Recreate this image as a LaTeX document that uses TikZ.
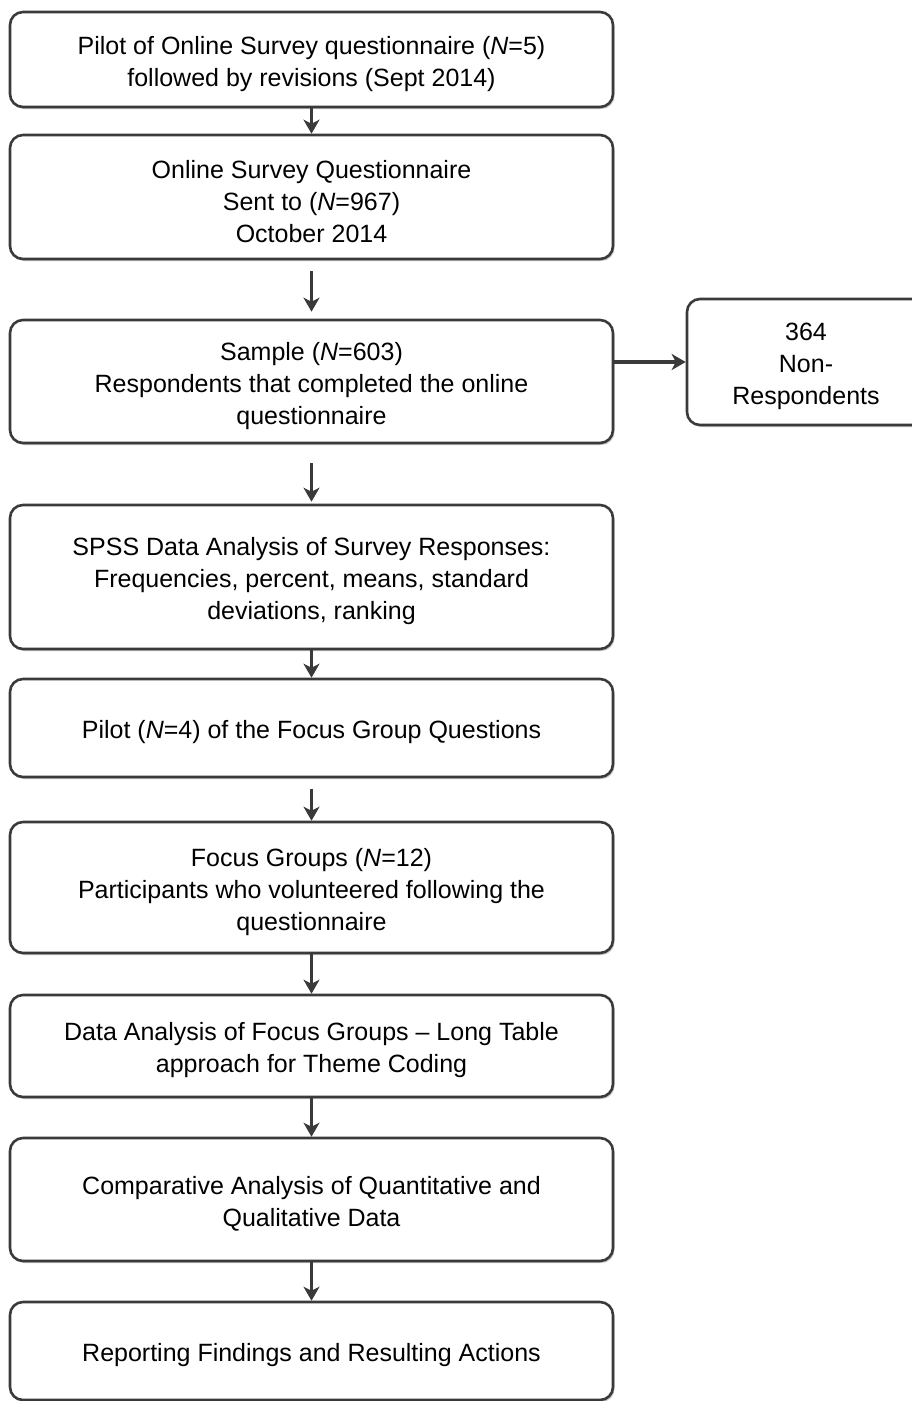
\documentclass[tikz,border=0pt]{standalone}
\usepackage{fontspec}
\setmainfont{Liberation Sans}
\usetikzlibrary{arrows.meta,shadows}
\definecolor{edge}{HTML}{3A3A3A}
\newcommand{\toppad}{\rule{0pt}{27pt}}
\begin{document}
\begin{tikzpicture}[x=1pt,y=-1pt,
  box/.style={draw=edge, line width=2.6pt, rounded corners=13pt, fill=white,
    minimum width=603pt, inner sep=0pt, align=center,
    font=\fontsize{25}{32}\selectfont,
    drop shadow={shadow xshift=1.5pt, shadow yshift=-2pt, opacity=0.35, fill=black!60}},
  flow/.style={draw=edge, line width=3.5pt, -{Stealth[length=14pt,width=16pt,inset=4pt]}}
]
\useasboundingbox (0,0) rectangle (912,1401);
\node[box, minimum height=95pt] (b1) at (311.5,59.5)
  {\toppad Pilot of Online Survey questionnaire ({\itshape N}=5)\\followed by revisions (Sept 2014)};
\node[box, minimum height=124pt] (b2) at (311.5,197)
  {\toppad Online Survey Questionnaire\\Sent to ({\itshape N}=967)\\October 2014};
\node[box, minimum height=123pt] (b3) at (311.5,381.5)
  {\toppad Sample ({\itshape N}=603)\\Respondents that completed the online\\questionnaire};
\node[box, minimum width=238pt, minimum height=126pt] (br) at (806,362)
  {\toppad 364\\Non-\\Respondents};
\node[box, minimum height=144pt] (b4) at (311.5,577)
  {\toppad SPSS Data Analysis of Survey Responses:\\Frequencies, percent, means, standard\\deviations, ranking};
\node[box, minimum height=98pt] (b5) at (311.5,728)
  {\toppad Pilot ({\itshape N}=4) of the Focus Group Questions};
\node[box, minimum height=131pt] (b6) at (311.5,887.5)
  {\toppad Focus Groups ({\itshape N}=12)\\Participants who volunteered following the\\questionnaire};
\node[box, minimum height=102pt] (b7) at (311.5,1046)
  {\toppad Data Analysis of Focus Groups -- Long Table\\approach for Theme Coding};
\node[box, minimum height=123pt] (b8) at (311.5,1199.5)
  {\toppad Comparative Analysis of Quantitative and\\Qualitative Data};
\node[box, minimum height=98pt] (b9) at (311.5,1351)
  {\toppad Reporting Findings and Resulting Actions};
\draw[flow] (b1.south) -- (b2.north);
\draw[flow, shorten <=11pt, shorten >=7pt] (b2.south) -- (b3.north);
\draw[flow, shorten <=19pt, shorten >=2pt] (b3.south) -- (b4.north);
\draw[flow] (b4.south) -- (b5.north);
\draw[flow, shorten <=11pt] (b5.south) -- (b6.north);
\draw[flow] (b6.south) -- (b7.north);
\draw[flow] (b7.south) -- (b8.north);
\draw[flow] (b8.south) -- (b9.north);
\draw[flow, line width=4.5pt] (b3.east |- br.west) -- (br.west);
\end{tikzpicture}
\end{document}
